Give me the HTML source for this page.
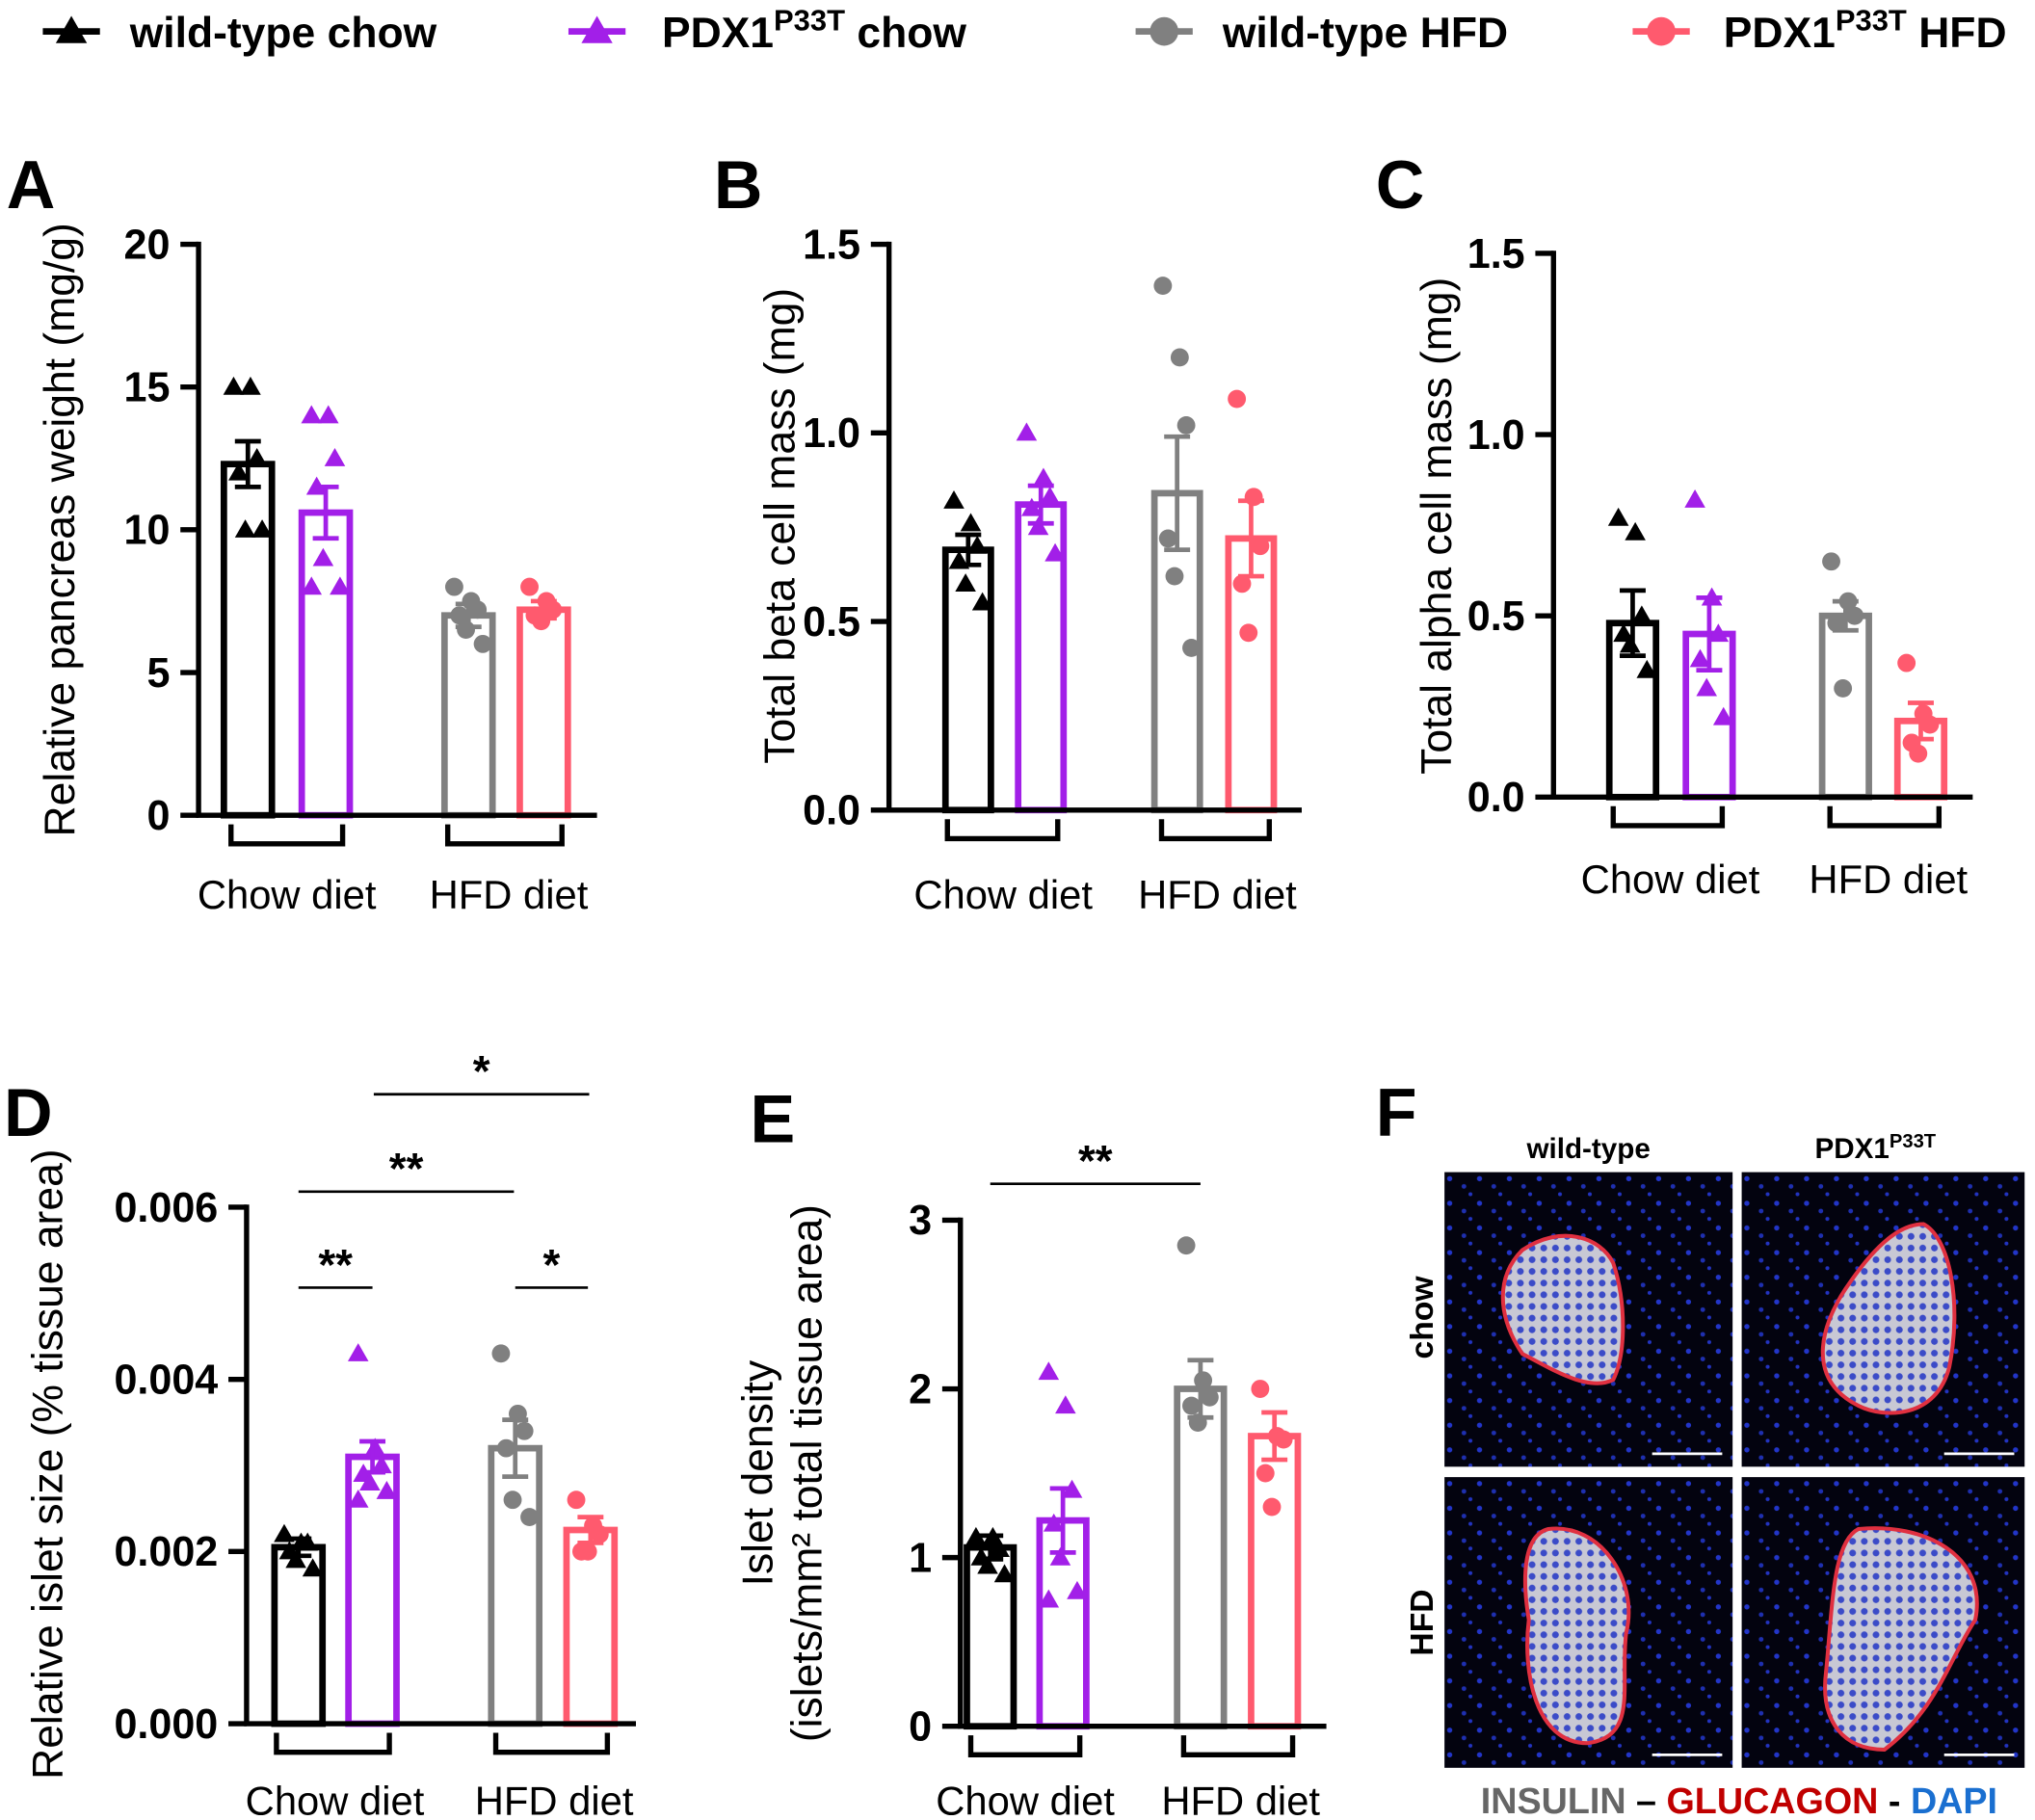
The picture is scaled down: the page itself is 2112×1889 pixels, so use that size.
<!DOCTYPE html>
<html><head><meta charset="utf-8"><style>
html,body{margin:0;padding:0;background:#fff;width:2112px;height:1889px;overflow:hidden}
svg{display:block;font-family:"Liberation Sans",Arial,sans-serif}
</style></head><body>
<svg id="fig" width="2112" height="1889" viewBox="0 0 1568 1402" xmlns="http://www.w3.org/2000/svg">
<defs>
<pattern id="nuc" width="23" height="19" patternUnits="userSpaceOnUse">
<rect width="23" height="19" fill="#03030f"/>
<circle cx="4" cy="5" r="2" fill="#2235c8"/><circle cx="15" cy="11" r="1.8" fill="#1e2fb0"/><circle cx="20" cy="17" r="1.5" fill="#2233c0"/>
</pattern>
<pattern id="cells" width="9" height="9" patternUnits="userSpaceOnUse">
<rect width="9" height="9" fill="#c8c8d4"/><circle cx="4.5" cy="4.5" r="2.6" fill="#3b4bc8"/>
</pattern>
</defs>
<g id="legend"></g>
<g id="charts"></g>
<g id="panelF"></g>
</svg>
<script>
const NS="http://www.w3.org/2000/svg";
const svg=document.getElementById('fig');
function el(tag,attrs,parent,text){const e=document.createElementNS(NS,tag);for(const k in attrs)e.setAttribute(k,attrs[k]);if(text!==undefined)e.textContent=text;(parent||svg).appendChild(e);return e;}

const groups=["wild-type chow","PDX1 chow","wild-type HFD","PDX1 HFD"];
const colors=["#000000","#a21fe8","#808080","#ff5a6e"];
const shapes=["tri","tri","circ","circ"];

// Panel A data
const aMeans=[12.3,10.6,7.0,7.2];
const aSem=[0.8,0.9,0.4,0.3];
const aPoints=[[15,15,12.5,12,10,10],[14,14,12.5,11.5,9,8,8],[8,7.5,7.2,7,6.5,6],[8,7.5,7.2,7,6.8]];
const aTicks=[0,5,10,15,20];
// Panel B data
const bMeans=[0.69,0.81,0.84,0.72];
const bSem=[0.04,0.05,0.15,0.1];
const bPoints=[[0.82,0.76,0.7,0.66,0.6,0.55],[1.0,0.88,0.83,0.8,0.75,0.68],[1.39,1.2,1.02,0.72,0.62,0.43],[1.09,0.83,0.7,0.6,0.47]];
const bTicks=[0,0.5,1.0,1.5];
// Panel C data
const cMeans=[0.48,0.45,0.5,0.21];
const cSem=[0.09,0.1,0.04,0.05];
const cPoints=[[0.77,0.73,0.5,0.45,0.42,0.35],[0.82,0.55,0.45,0.38,0.3,0.22],[0.65,0.54,0.5,0.48,0.3],[0.37,0.23,0.2,0.15,0.12]];
const cTicks=[0,0.5,1.0,1.5];
// Panel D data
const dMeans=[0.00205,0.0031,0.0032,0.00225];
const dSem=[0.0001,0.00018,0.00033,0.00015];
const dPoints=[[0.0022,0.0021,0.0021,0.002,0.0019,0.0018],[0.0043,0.0032,0.003,0.0029,0.0028,0.0027,0.0026],[0.0043,0.0036,0.0034,0.0032,0.0026,0.0024],[0.0026,0.0023,0.0022,0.002,0.002]];
const dTicks=[0,0.002,0.004,0.006];
// Panel E data
const eMeans=[1.06,1.22,2.0,1.72];
const eSem=[0.07,0.19,0.17,0.14];
const ePoints=[[1.12,1.12,1.05,1.0,0.95,0.9],[2.1,1.9,1.4,1.2,1.0,0.8,0.75],[2.85,2.05,1.95,1.9,1.8],[2.0,1.72,1.7,1.5,1.3]];
const eTicks=[0,1,2,3];

const panels=[
 {id:'a',means:aMeans,sem:aSem,pts:aPoints,ticks:aTicks,fmt:v=>String(v),ax:153,y0:628,y1:188,vmax:20,xend:460,cx:[191,251,361,419],bw:37,br:[[178,264],[345,433]],lab:[221,392],ly:700,title:["Relative pancreas weight (mg/g)"],tx:[57],ty:408,letter:['A',5,160]},
 {id:'b',means:bMeans,sem:bSem,pts:bPoints,ticks:bTicks,fmt:v=>v.toFixed(1),ax:685,y0:624,y1:188,vmax:1.5,xend:1003,cx:[746,802,907,964],bw:35,br:[[730,815],[895,978]],lab:[773,938],ly:700,title:["Total beta cell mass (mg)"],tx:[612],ty:405,letter:['B',550,160]},
 {id:'c',means:cMeans,sem:cSem,pts:cPoints,ticks:cTicks,fmt:v=>v.toFixed(1),ax:1197,y0:614,y1:195,vmax:1.5,xend:1520,cx:[1258,1317,1422,1480],bw:36,br:[[1243,1327],[1410,1494]],lab:[1287,1455],ly:688,title:["Total alpha cell mass (mg)"],tx:[1118],ty:405,letter:['C',1060,160]},
 {id:'d',means:dMeans,sem:dSem,pts:dPoints,ticks:dTicks,fmt:v=>v.toFixed(3),ax:190,y0:1328,y1:930,vmax:0.006,xend:490,cx:[230,287,397,455],bw:37,br:[[213,300],[382,468]],lab:[258,427],ly:1398,title:["Relative islet size (% tissue area)"],tx:[48],ty:1128,letter:['D',3,875],
  sig:[[230,287,992,'**'],[397,453,992,'*'],[230,396,918,'**'],[288,454,843,'*']]},
 {id:'e',means:eMeans,sem:eSem,pts:ePoints,ticks:eTicks,fmt:v=>String(v),ax:740,y0:1330,y1:940,vmax:3,xend:1022,cx:[763,819,925,982],bw:36,br:[[748,832],[912,996]],lab:[790,956],ly:1398,title:["Islet density","(islets/mm\u00b2 total tissue area)"],tx:[595,633],ty:1135,letter:['E',578,880],
  sig:[[763,925,912,'**']]}
];

function marker(g,shape,x,y,c){
  if(shape==='tri'){const p=el('polygon',{points:`${x},${y-8} ${x-8},${y+6} ${x+8},${y+6}`,fill:c},g);}
  else{const p=el('circle',{cx:x,cy:y,r:7,fill:c},g);}
}
const charts=document.getElementById('charts');
panels.forEach(P=>{
  const g=el('g',{},charts);
  
  
  const ys=v=>P.y0-(v/P.vmax)*(P.y0-P.y1);
  const L=el('text',{x:P.letter[1],y:P.letter[2],'font-size':52,'font-weight':'bold'},g,P.letter[0]);
  
  P.means.forEach((m,i)=>{
    const c=colors[i],x=P.cx[i];
    const b=el('rect',{x:x-P.bw/2,y:ys(m),width:P.bw,height:P.y0-ys(m),fill:'none',stroke:c,'stroke-width':5},g);
    
    
    P.pts[i].forEach((v,j)=>{
      const off=(j%3-1)*9+(j%2?2:-2);
      marker(g,shapes[i],x+off,ys(v),c);
    });
    const e1=ys(m+P.sem[i]),e2=ys(m-P.sem[i]);
    const eb=el('path',{d:`M${x},${e1}V${e2}M${x-10},${e1}H${x+10}M${x-10},${e2}H${x+10}`,stroke:c,'stroke-width':3.5,fill:'none'},g);
    
  });
  const ax=el('path',{d:`M${P.ax},${P.y1-2}V${P.y0}H${P.xend}`,stroke:'#000','stroke-width':4,fill:'none'},g);
  
  P.ticks.forEach(t=>{
    el('line',{x1:P.ax-14,x2:P.ax,y1:ys(t),y2:ys(t),stroke:'#000','stroke-width':4},g);
    const tl=el('text',{x:P.ax-22,y:ys(t)+11,'font-size':32,'font-weight':'bold','text-anchor':'end'},g,P.fmt(t));
    
  });
  P.br.forEach((b,k)=>{
    const by=P.y0+7;
    el('path',{d:`M${b[0]},${by}V${by+15}H${b[1]}V${by}`,stroke:'#000','stroke-width':4,fill:'none'},g);
    const xl=el('text',{x:P.lab[k],y:P.ly,'font-size':31,'text-anchor':'middle'},g,k?'HFD diet':'Chow diet');
    
  });
  P.title.forEach((t,k)=>{
    const tt=el('text',{x:P.tx[k],y:P.ty,'font-size':33,'text-anchor':'middle',transform:`rotate(-90 ${P.tx[k]} ${P.ty})`},g,t);
    
  });
  (P.sig||[]).forEach(s=>{
    el('line',{x1:s[0],x2:s[1],y1:s[2],y2:s[2],stroke:'#000','stroke-width':2},g);
    const st=el('text',{x:(s[0]+s[1])/2,y:s[2]-6,'font-size':34,'font-weight':'bold','text-anchor':'middle'},g,s[3]);
    
  });
});

const lg=document.getElementById('legend');
const legX=[55,460,897,1280],txX=[100,510,942,1328];
groups.forEach((gname,i)=>{
  const g=el('g',{},lg);
  
  
  el('line',{x1:legX[i]-22,x2:legX[i]+22,y1:24,y2:24,stroke:colors[i],'stroke-width':5},g);
  if(shapes[i]==='tri')el('polygon',{points:`${legX[i]},${12} ${legX[i]-12},${33} ${legX[i]+12},${33}`,fill:colors[i]},g);
  else el('circle',{cx:legX[i],cy:24,r:11,fill:colors[i]},g);
  const t=el('text',{x:txX[i],y:36,'font-size':33,'font-weight':'bold'},g);
  if(gname.startsWith('PDX1')){
    t.appendChild(document.createTextNode('PDX1'));
    el('tspan',{dy:-13,'font-size':23},t,'P33T');
    el('tspan',{dy:13,'font-size':33},t,' '+gname.split(' ')[1]);
  } else t.textContent=gname;
});

const F=document.getElementById('panelF');
el('text',{x:1060,y:875,'font-size':52,'font-weight':'bold'},F,'F');
el('text',{x:1224,y:892,'font-size':22,'font-weight':'bold','text-anchor':'middle'},F,'wild-type');
const pt=el('text',{x:1445,y:892,'font-size':22,'font-weight':'bold','text-anchor':'middle'},F,'PDX1');
el('tspan',{dy:-8,'font-size':15},pt,'P33T');
el('text',{x:1104,y:1015,'font-size':25,'font-weight':'bold','text-anchor':'middle',transform:'rotate(-90 1104 1015)'},F,'chow');
el('text',{x:1104,y:1250,'font-size':25,'font-weight':'bold','text-anchor':'middle',transform:'rotate(-90 1104 1250)'},F,'HFD');
const imgs=[[1113,903,222,227,'M60,60 C90,40 120,50 130,70 C140,100 140,140 130,160 C110,170 80,150 60,140 C40,110 40,80 60,60Z'],
 [1342,903,218,227,'M140,40 C160,50 170,100 160,150 C150,190 110,190 90,180 C50,160 60,120 80,90 C100,60 120,40 140,40Z'],
 [1113,1138,222,224,'M80,40 C120,35 150,80 140,120 C135,160 150,200 110,205 C70,205 60,150 65,110 C60,80 60,45 80,40Z'],
 [1342,1138,218,224,'M90,40 C140,35 190,60 180,110 C160,140 150,180 110,210 C80,210 60,190 65,150 C70,100 70,50 90,40Z']];
const names=['micrograph-wt-chow','micrograph-pdx1-chow','micrograph-wt-hfd','micrograph-pdx1-hfd'];
imgs.forEach((m,i)=>{
  const g=el('g',{transform:`translate(${m[0]},${m[1]})`},F);
  
  
  el('rect',{x:0,y:0,width:m[2],height:m[3],fill:'url(#nuc)'},g);
  el('path',{d:m[4],fill:'url(#cells)',stroke:'#e03040','stroke-width':3},g);
  el('line',{x1:m[2]-62,x2:m[2]-8,y1:m[3]-10,y2:m[3]-10,stroke:'#fff','stroke-width':2},g);
});
const lt=el('text',{x:1340,y:1397,'font-size':28,'font-weight':'bold','text-anchor':'middle'},F);
el('tspan',{fill:'#666'},lt,'INSULIN ');
el('tspan',{fill:'#000'},lt,'\u2013 ');
el('tspan',{fill:'#c00000'},lt,'GLUCAGON');
el('tspan',{fill:'#000'},lt,' - ');
el('tspan',{fill:'#1a6fd0'},lt,'DAPI');
</script>
</body></html>
